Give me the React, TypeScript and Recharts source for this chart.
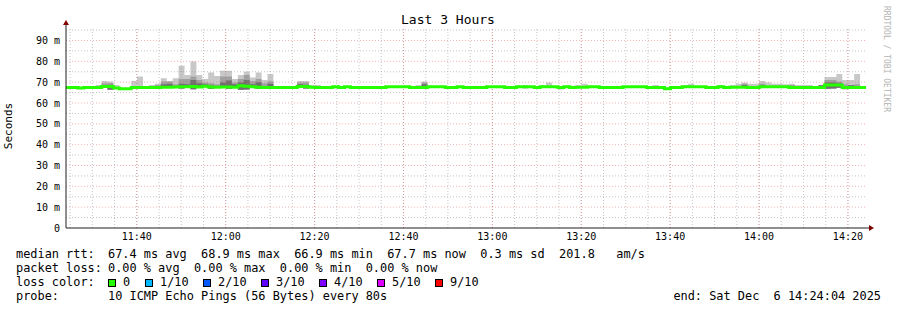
import React from 'react';
import { ComposedChart, Area, Line, XAxis, YAxis, ReferenceLine } from 'recharts';

// time axis: seconds since midnight, 80 s steps from 11:24:04 to 14:24:04
const START = 41044;
const STEP = 80;

// median rtt per step (ms)
const median = [
  67.5, 67.5, 67.2, 67.5, 67.5, 67.5, 67.9, 67.9, 67.2, 66.8,
  66.8, 67.4, 67.4, 67.4, 67.4, 67.5, 67.6, 67.6, 67.7, 67.8,
  67.8, 67.9, 67.7, 68.0, 67.7, 67.6, 67.7, 67.7, 67.6, 68.3,
  68.0, 67.8, 67.6, 67.5, 67.5, 67.4, 67.4, 67.4, 67.4, 67.9,
  67.9, 67.6, 67.4, 67.4, 67.4, 67.8, 67.4, 67.8, 67.4, 67.4,
  67.4, 67.4, 67.4, 67.4, 67.8, 67.8, 67.8, 67.8, 67.4, 67.4,
  67.5, 67.8, 67.8, 67.8, 67.4, 67.4, 67.8, 67.4, 67.4, 67.4,
  67.4, 67.8, 67.8, 67.8, 67.4, 67.4, 67.8, 67.8, 67.8, 67.4,
  67.8, 67.8, 67.8, 67.4, 67.8, 67.4, 67.6, 67.6, 67.8, 67.8,
  67.4, 67.4, 67.4, 67.4, 67.8, 67.8, 67.8, 67.8, 67.4, 67.4,
  67.4, 66.9, 67.4, 67.4, 67.8, 67.8, 67.8, 67.8, 67.4, 67.4,
  67.8, 67.4, 67.6, 67.6, 67.6, 67.5, 67.5, 67.8, 67.8, 67.8,
  67.8, 67.8, 67.4, 67.4, 67.4, 67.4, 67.4, 67.5, 68.6, 68.6,
  68.6, 67.4, 67.5, 67.5, 67.5,
];

// lowest ping where it pokes out below the median [step, ms]
const minPing: [number, number][] = [
  [6, 67.2], [7, 66.4], [19, 67.0], [21, 66.6], [24, 66.8], [27, 66.8], [29, 66.4],
  [30, 66.5], [32, 66.8], [40, 67.0], [77, 66.9], [83, 66.5], [99, 66.9],
  [128, 66.8], [129, 67.0], [130, 67.3], [131, 66.6],
];

// highest ping (outer smoke) [step, ms]
const maxPing: [number, number][] = [
  [4, 67.9], [5, 68.7], [6, 70.6], [7, 70.3], [8, 68.7], [11, 70.6], [12, 72.7],
  [14, 68.7], [15, 69.3], [16, 71.9], [17, 70.6], [18, 71.9], [19, 77.9], [20, 73.5],
  [21, 79.9], [22, 73.5], [23, 71.5], [24, 74.6], [25, 73.0], [26, 75.5], [27, 75.5],
  [28, 71.5], [29, 73.5], [30, 75.0], [31, 72.2], [32, 74.6], [33, 71.0], [34, 73.9],
  [39, 70.6], [40, 70.6], [41, 68.7], [42, 68.7], [59, 68.7], [60, 70.3], [72, 68.2],
  [77, 68.7], [80, 68.7], [81, 69.8], [86, 68.7], [87, 69.3], [98, 68.0], [99, 68.7],
  [104, 68.7], [105, 69.3], [109, 68.2], [110, 68.7], [112, 68.7], [113, 69.3],
  [114, 69.8], [115, 69.2], [116, 69.3], [117, 70.6], [118, 69.8], [119, 69.3],
  [120, 69.3], [121, 69.0], [122, 69.3], [123, 68.7], [124, 68.7], [125, 68.7],
  [126, 68.2], [127, 68.7], [128, 72.5], [129, 72.5], [130, 73.9], [131, 71.0],
  [132, 71.0], [133, 73.9], [134, 67.9],
];

// top of the middle smoke band [step, ms]
const midTop: [number, number][] = [
  [6, 69.5], [7, 69.5], [15, 68.7], [16, 70.3], [17, 70.3], [18, 69.0], [19, 71.5],
  [20, 71.5], [21, 72.7], [22, 71.0], [23, 69.8], [24, 69.5], [25, 69.0], [26, 72.7],
  [27, 72.7], [28, 69.8], [29, 71.5], [30, 73.5], [31, 70.5], [32, 71.5], [33, 69.5],
  [34, 70.5], [39, 69.8], [40, 69.8], [60, 69.8], [114, 69.3], [117, 69.3],
  [122, 68.7], [127, 68.7], [128, 71.0], [129, 71.0], [130, 70.3], [131, 69.0],
  [132, 68.7], [133, 69.0],
];

// top of the inner (darkest) smoke band [step, ms]
const innerTop: [number, number][] = [
  [6, 68.6], [7, 68.8], [16, 69.0], [17, 69.3], [19, 69.3], [20, 69.0], [21, 71.0],
  [22, 69.5], [23, 69.0], [24, 68.5], [26, 69.8], [27, 70.8], [28, 69.0], [29, 69.8],
  [30, 71.0], [31, 69.0], [32, 70.0], [34, 69.3], [39, 69.0], [40, 68.8], [60, 69.0],
  [114, 68.6], [117, 68.6], [127, 68.5], [128, 69.8], [129, 69.8], [130, 69.5],
  [132, 68.5],
];

const xTicks = [42000, 43200, 44400, 45600, 46800, 48000, 49200, 50400, 51600];
const yTicks = [0, 10, 20, 30, 40, 50, 60, 70, 80, 90];
const yMinorGrid = [5, 15, 25, 35, 45, 55, 65, 75, 85, 95];
const xMinorGrid = Array.from({ length: 36 }, (_, k) => 41100 + k * 300);

const lossColors = [
  { label: '0', color: '#26ff00' },
  { label: '1/10', color: '#00b8ff' },
  { label: '2/10', color: '#0059ff' },
  { label: '3/10', color: '#5e00ff' },
  { label: '4/10', color: '#7e00ff' },
  { label: '5/10', color: '#dd00ff' },
  { label: '9/10', color: '#ff0000' },
];
const lossSwatchX = [108, 145, 203, 261, 319, 377, 435];

const toMap = (pairs: [number, number][]) => new Map(pairs);
const minM = toMap(minPing);
const maxM = toMap(maxPing);
const midM = toMap(midTop);
const innM = toMap(innerTop);

const rows = median.map((m, i) => {
  const lo = minM.has(i) ? (minM.get(i) as number) : m;
  const hi = maxM.has(i) ? (maxM.get(i) as number) : m;
  const h2 = midM.has(i) ? (midM.get(i) as number) : lo;
  const h3 = innM.has(i) ? (innM.get(i) as number) : lo;
  return { t: START + i * STEP, med: m, light: [lo, hi], mid: [lo, h2], dark: [lo, h3] };
});
rows.push({ ...rows[rows.length - 1], t: START + median.length * STEP });

const fmtTime = (v: number) => {
  const h = Math.floor(v / 3600);
  const m = Math.floor((v % 3600) / 60);
  return `${String(h).padStart(2, '0')}:${String(m).padStart(2, '0')}`;
};

const MONO = 'DejaVu Sans Mono';
const GRID = 'rgba(150,150,150,0.55)';
const MGRID = 'rgba(230,90,90,0.45)';

export default function App() {
  const pre = { whiteSpace: 'pre' as const };
  return (
    <div style={{ position: 'absolute', left: 0, top: 0, width: 897, height: 310, background: '#fff' }}>
      <ComposedChart
        width={897}
        height={310}
        data={rows}
        margin={{ top: 28, right: 31, bottom: 52, left: 6 }}
      >
        {yMinorGrid.map((v) => (
          <ReferenceLine key={'ym' + v} y={v} stroke={GRID} strokeDasharray="1 2" />
        ))}
        {xMinorGrid.map((v) => (
          <ReferenceLine key={'xm' + v} x={v} stroke={GRID} strokeDasharray="1 2" />
        ))}
        {yTicks.filter((v) => v > 0).map((v) => (
          <ReferenceLine key={'yM' + v} y={v} stroke={MGRID} strokeDasharray="1 2" />
        ))}
        {xTicks.map((v) => (
          <ReferenceLine key={'xM' + v} x={v} stroke={MGRID} strokeDasharray="1 2" />
        ))}
        <XAxis
          dataKey="t"
          type="number"
          domain={[START, START + median.length * STEP]}
          ticks={xTicks}
          tickFormatter={fmtTime}
          tickLine={false}
          tickSize={0}
          tickMargin={5}
          axisLine={{ stroke: '#212121' }}
          tick={{ fontFamily: MONO, fontSize: 10, fill: '#000' }}
          allowDataOverflow
        />
        <YAxis
          type="number"
          domain={[0, 96]}
          ticks={yTicks}
          interval={0}
          tickFormatter={(v: number) => (v === 0 ? '0' : `${v} m`)}
          tickLine={false}
          tickSize={0}
          tickMargin={6}
          width={60}
          axisLine={{ stroke: '#212121' }}
          tick={{ fontFamily: MONO, fontSize: 10, fill: '#000' }}
          allowDataOverflow
        />
        <Area dataKey="light" type="stepAfter" stroke="none" fill="#c8c8c8" fillOpacity={1} isAnimationActive={false} />
        <Area dataKey="mid" type="stepAfter" stroke="none" fill="#a0a0a0" fillOpacity={1} isAnimationActive={false} />
        <Area dataKey="dark" type="stepAfter" stroke="none" fill="#707070" fillOpacity={1} isAnimationActive={false} />
        <Line dataKey="med" type="stepAfter" stroke="#26ff00" strokeWidth={3} dot={false} isAnimationActive={false} />
      </ComposedChart>
      <svg
        width={897}
        height={310}
        style={{ position: 'absolute', left: 0, top: 0, pointerEvents: 'none' }}
        fontFamily={MONO}
      >
        <text x={448} y={24} fontSize={13} textAnchor="middle" fill="#000">Last 3 Hours</text>
        <text x={12} y={126} fontSize={11} textAnchor="middle" fill="#000" transform="rotate(-90 12 126)">Seconds</text>
        <text x={884} y={59} fontSize={8} textAnchor="middle" fill="#b4b4b4" transform="rotate(90 884 59)">RRDTOOL / TOBI OETIKER</text>
        <line x1={66} y1={28} x2={66} y2={24} stroke="#212121" />
        <polygon points="63,25 69,25 66,20" fill="#800000" />
        <line x1={866} y1={228} x2={870} y2={228} stroke="#212121" />
        <polygon points="869,225 869,231 874,228" fill="#800000" />
        <g fontSize={11.9} fill="#000" style={pre}>
          <text x={16} y={258} style={pre}>median rtt:</text>
          <text x={108} y={258} style={pre}>67.4 ms avg  68.9 ms max  66.9 ms min  67.7 ms now  0.3 ms sd  201.8   am/s</text>
          <text x={16} y={272} style={pre}>packet loss:</text>
          <text x={108} y={272} style={pre}>0.00 % avg  0.00 % max  0.00 % min  0.00 % now</text>
          <text x={16} y={286} style={pre}>loss color:</text>
          <text x={16} y={300} style={pre}>probe:</text>
          <text x={108} y={300} style={pre}>10 ICMP Echo Pings (56 Bytes) every 80s</text>
          <text x={881} y={300} textAnchor="end" style={pre}>end: Sat Dec  6 14:24:04 2025</text>
        </g>
        {lossColors.map((c, k) => {
          const xs = lossSwatchX[k];
          return (
            <g key={c.label}>
              <rect x={xs + 0.5} y={279.5} width={7} height={7} fill={c.color} stroke="#000" strokeWidth={1} />
              <text x={xs + 15} y={286} fontSize={11.9} fill="#000">{c.label}</text>
            </g>
          );
        })}
      </svg>
    </div>
  );
}
